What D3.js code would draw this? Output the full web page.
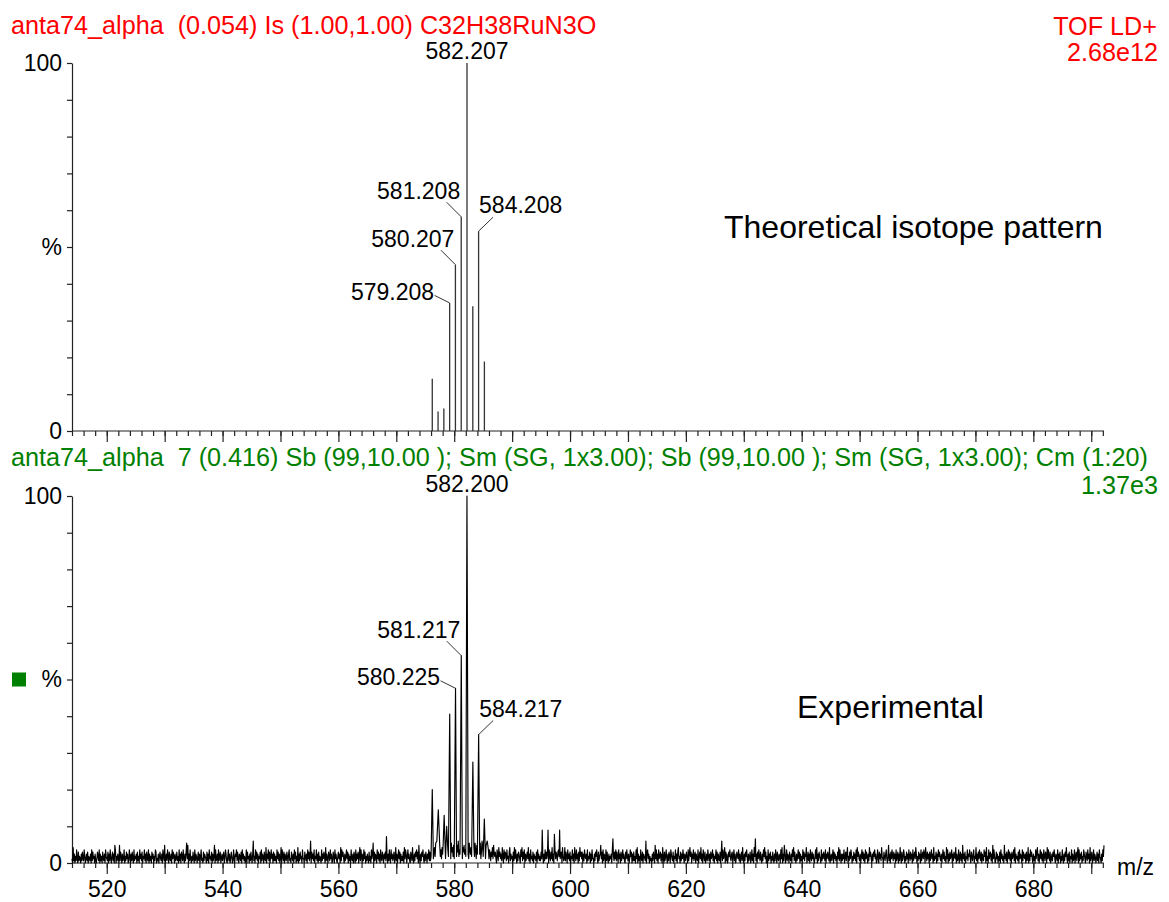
<!DOCTYPE html>
<html>
<head>
<meta charset="utf-8">
<script src="https://cdn.jsdelivr.net/npm/d3@7"></script>
<style>
  html, body { margin: 0; padding: 0; background: #fff; }
  svg { display: block; font-family: "Liberation Sans", Arial, Helvetica, sans-serif; }
</style>
</head>
<body>
<svg id="chart" width="1169" height="902"></svg>
<script>
// ---- m/z axis ----
const mzDomain = [514.0, 692.2];
const mzLabelTicks = [520, 540, 560, 580, 600, 620, 640, 660, 680];
const mzMajorTicks = [520, 530, 540, 550, 560, 570, 580, 590, 600, 610, 620, 630, 640, 650, 660, 670, 680, 690];
const mzMinorStep = 2;
const pctTicks = [0, 10, 20, 30, 40, 50, 60, 70, 80, 90, 100];

// ---- theoretical isotope pattern (C32H38RuN3O), relative intensity % ----
const theoMz  = [576.21, 577.21, 578.21, 579.208, 580.207, 581.208, 582.207, 583.21, 584.208, 585.21];
const theoPct = [14.2,   5.3,    6.1,    34.8,    45.2,    58.2,    100,     33.9,   54.3,    18.9];
const theoLabelled = [579.208, 580.207, 581.208, 582.207, 584.208];

// ---- experimental spectrum: isotope cluster peaks, relative intensity % ----
const expPeakMz  = [576.21, 577.0, 577.25, 578.26, 578.7, 579.22, 580.225, 581.217, 582.200, 583.22, 584.217, 585.2, 585.7];
const expPeakPct = [20,     6,     14.5,   13,     10,    40.6,   47.6,    56.5,    100,     27.5,   35,      12,    6];
const expLabelled = [580.225, 581.217, 582.200, 584.217];

// ---- experimental baseline noise: one level per 0.1 m/z starting at 514.0,
//      in 0.6 % units written as base-36 digits; each string covers 5 m/z ----
const noiseStartMz = 514.0;
const noiseStepMz = 0.1;
const noiseUnitPct = 0.6;
const noiseLevels = [
  "20714031620513204152163024150321406152304102531604", // 514
  "13052140632150416203514086031420815304126031524016", // 519
  "30415206132405130624150326140521604130524031650214", // 524
  "03521406318024163052140625304125130614053162041592", // 529
  "80416203152061430251403612051432051406231504138061", // 534
  "24061350241350264103614025301620436152043150624130", // 539
  "1605230415204a130625140325061430521704261503624051", // 544
  "41306251402706315042153046120531406250317041523062", // 549
  "205314062513a0524160326140513206142530714205316240", // 554
  "15306241035240716352041362504130621405306142503716", // 559
  "30416250314205130624905143062514062153042 51c304162".replace(" ", ""), // 564
  "06241350271403625041315072640362410531720415362508", // 569
  "20415362041530426151364825739427594836274938527496", // 574
  "38462957382947385a3648392758463a484296473584739628", // 579
  "48374925a83947285736264153728435206417352417306254", // 584
  "16230571423051726304154206371526041352714062315042", // 589
  "315062413152f304162524f0631527140d62531563f2450731", // 594
  "27153062415032614073162405173525041632406132504162", // 599
  "20415362051348250614306152041324 06b315261530624051".replace(" ", ""), // 604
  "36241052631402635041513062704130621504321a05624031", // 609
  "20415308261406235140720513620415306421503261405723", // 614
  "05142630413520614735042613504216035271406315024163", // 619
  "14052361403261504215 04a1623705 14025362145036140253".replace(/ /g, ""), // 624
  "26140351720415362041350261407 3b1405263152041637250".replace(" ", ""), // 629
  "30614250315204163052143062704185026143052140637152", // 634
  "04136250413062514370251406315241036270415320614253", // 639
  "16042531702413605241305271630414260351470315264031", // 644
  "52416073521403625140625304173520415362401630524173", // 649
  "20531462038140526315240613504173051264031524063152", // 654
  "40613527403152406135264073152405136240713250416352", // 659
  "14036251307260415236041532704126035140824150326143", // 664
  "62053146032714052631504216350713062451408263015240", // 669
  "31506241308241503625140523617042315062430615324051", // 674
  "27041635204130625714036251406315407263150241536204", // 679
  "31604250316204153720415032604126035147061425031642", // 684
  "053162407135026143025140632041638"                   // 689-692.2
];

const axisColor = "#222";
const red = "#ff0000";
const green = "#008000";
const fontMain = 23;
const fontHeader = 25.2;

const svg = d3.select("#chart");

const x = d3.scaleLinear().domain(mzDomain).range([72, 1104]);
const yTop = d3.scaleLinear().domain([0, 100]).range([431, 63]);
const yBot = d3.scaleLinear().domain([0, 100]).range([863, 496]);

const fmt3 = d3.format(".3f");
const mzMinorTicks = d3.range(Math.ceil(mzDomain[0] / mzMinorStep) * mzMinorStep, mzDomain[1], mzMinorStep);

// ---------- header texts ----------
function headerText(txt, xPos, yPos, color, anchor) {
  svg.append("text")
    .attr("x", xPos).attr("y", yPos)
    .attr("fill", color)
    .attr("font-size", fontHeader)
    .attr("text-anchor", anchor || "start")
    .style("white-space", "pre")
    .text(txt);
}
headerText("anta74_alpha  (0.054) Is (1.00,1.00) C32H38RuN3O", 11, 34, red);
headerText("TOF LD+", 1157, 35, red, "end");
headerText("2.68e12", 1158, 61, red, "end");
headerText("anta74_alpha  7 (0.416) Sb (99,10.00 ); Sm (SG, 1x3.00); Sb (99,10.00 ); Sm (SG, 1x3.00); Cm (1:20)", 11, 466, green);
headerText("1.37e3", 1158, 494, green, "end");

// ---------- axes ----------
function drawXAxis(yPos, withLabels) {
  const g = svg.append("g").attr("transform", `translate(0,${yPos})`);
  g.append("g")
    .call(d3.axisBottom(x).tickValues(mzMinorTicks).tickSize(5).tickSizeOuter(0).tickFormat(""))
    .call(s => s.select(".domain").remove());
  g.append("g")
    .call(d3.axisBottom(x).tickValues(mzMajorTicks).tickSize(11).tickSizeOuter(0).tickPadding(7)
      .tickFormat(d => (withLabels && mzLabelTicks.includes(d)) ? d : ""))
    .call(s => s.select(".domain").remove());
  g.append("line")
    .attr("x1", x(mzDomain[0])).attr("x2", x(mzDomain[1]))
    .attr("y1", 0).attr("y2", 0);
  g.selectAll("line").attr("stroke", axisColor).attr("stroke-width", 1.2);
  g.selectAll("g").attr("font-family", null);
  g.selectAll("text").attr("font-size", fontMain).attr("fill", "#000");
}

function drawYAxis(scale) {
  const g = svg.append("g").attr("transform", `translate(${x(mzDomain[0])},0)`)
    .call(d3.axisLeft(scale).tickValues(pctTicks).tickSize(5).tickSizeOuter(0).tickPadding(5)
      .tickFormat(d => d === 100 ? "100" : d === 50 ? "%" : d === 0 ? "0" : ""));
  g.attr("font-family", null);
  g.select(".domain").attr("stroke", axisColor).attr("stroke-width", 1.2);
  g.selectAll("line").attr("stroke", axisColor).attr("stroke-width", 1.2);
  g.selectAll("text").attr("font-size", fontMain).attr("fill", "#000");
}

drawXAxis(yTop(0), false);
drawXAxis(yBot(0), true);
drawYAxis(yTop);
drawYAxis(yBot);

// green marker next to the lower % label
svg.append("rect").attr("x", 12).attr("y", yBot(50) - 7).attr("width", 14).attr("height", 14).attr("fill", green);

// m/z axis title
svg.append("text").attr("x", 1117).attr("y", 875).attr("font-size", fontMain).text("m/z");

// ---------- theoretical sticks ----------
const theo = theoMz.map((m, i) => ({ mz: m, pct: theoPct[i] }));
svg.append("g").selectAll("line").data(theo).join("line")
  .attr("x1", d => x(d.mz)).attr("x2", d => x(d.mz))
  .attr("y1", yTop(0)).attr("y2", d => yTop(d.pct))
  .attr("stroke", "#333").attr("stroke-width", 1.3);

// ---------- experimental trace ----------
const noisePts = noiseLevels.join("").split("").map((c, i) => ({
  mz: +(noiseStartMz + i * noiseStepMz).toFixed(2),
  pct: parseInt(c, 36) * noiseUnitPct
}));
const peakPts = expPeakMz.map((m, i) => ({ mz: m, pct: expPeakPct[i] }));
const trace = noisePts
  .filter(p => p.mz <= mzDomain[1] + 1e-6)
  .filter(p => !peakPts.some(q => Math.abs(q.mz - p.mz) < 0.15))
  .concat(peakPts)
  .sort((a, b) => a.mz - b.mz);

svg.append("path")
  .datum(trace)
  .attr("fill", "none")
  .attr("stroke", "#000")
  .attr("stroke-width", 1.15)
  .attr("stroke-linejoin", "round")
  .attr("d", d3.line().x(d => x(d.mz)).y(d => yBot(d.pct)));

// ---------- peak annotations ----------
// placement style for each annotated peak
const placement = {
  "579.208": "left", "580.207": "upLeft", "581.208": "upLeft", "582.207": "top", "584.208": "upRight",
  "580.225": "left", "581.217": "upLeft", "582.200": "top", "584.217": "upRight"
};

function annotate(mz, pct, yScale) {
  const label = fmt3(mz);
  const sx = x(mz), sy = yScale(pct);
  const style = placement[label];
  const g = svg.append("g");
  let tx, ty, anchor, lx = null, ly = null;
  if (style === "top") { tx = sx; ty = sy - 4; anchor = "middle"; }
  else if (style === "upLeft") { tx = sx - 1; ty = sy - 18; anchor = "end"; lx = sx - 14.5; ly = sy - 14.5; }
  else if (style === "upRight") { tx = sx + 0.5; ty = sy - 18; anchor = "start"; lx = sx + 14.5; ly = sy - 14; }
  else { tx = sx - 15.5; ty = sy - 3; anchor = "end"; lx = sx - 15; ly = sy - 7.5; }
  if (lx !== null) {
    g.append("line").attr("x1", lx).attr("y1", ly).attr("x2", sx).attr("y2", sy)
      .attr("stroke", "#333").attr("stroke-width", 1);
  }
  g.append("text").attr("x", tx).attr("y", ty).attr("text-anchor", anchor)
    .attr("font-size", fontMain).attr("fill", "#000").text(label);
}

theoLabelled.forEach(m => annotate(m, theoPct[theoMz.indexOf(m)], yTop));
expLabelled.forEach(m => annotate(m, expPeakPct[expPeakMz.indexOf(m)], yBot));

// ---------- panel captions ----------
svg.append("text").attr("x", 724).attr("y", 238).attr("font-size", 32).text("Theoretical isotope pattern");
svg.append("text").attr("x", 797).attr("y", 718).attr("font-size", 32).text("Experimental");
</script>
</body>
</html>
